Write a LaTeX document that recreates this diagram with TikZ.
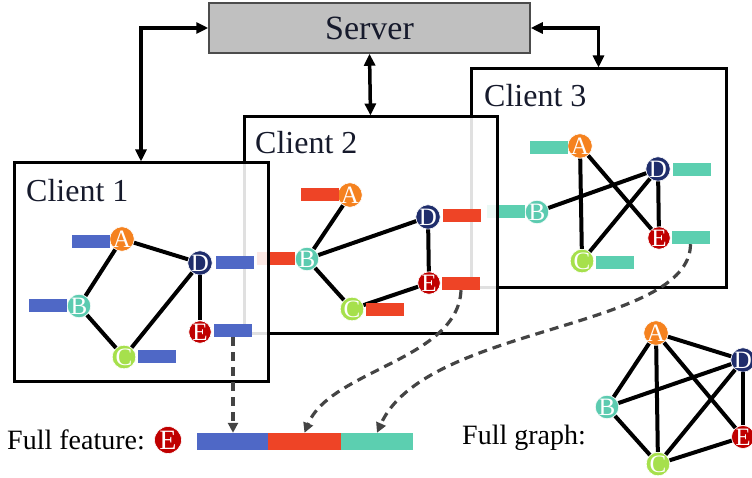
\documentclass[tikz,border=0pt]{standalone}
\usepackage{fontspec}
\setmainfont{Liberation Serif}
\usetikzlibrary{arrows.meta}
\definecolor{cA}{HTML}{F5821F}
\definecolor{cB}{HTML}{5CCBB0}
\definecolor{cC}{HTML}{A6E04C}
\definecolor{cD}{HTML}{1F2D6B}
\definecolor{cE}{HTML}{C00000}
\definecolor{barblue}{HTML}{4F68C6}
\definecolor{barred}{HTML}{EE4426}
\definecolor{barteal}{HTML}{5CCFB0}
\definecolor{srvgray}{HTML}{C0C0C0}
\definecolor{dashgray}{HTML}{444444}
\definecolor{labelink}{HTML}{161A2C}
\begin{document}
\begin{tikzpicture}[x=1pt,y=-1pt,
  vtx/.style={circle, inner sep=0pt, minimum size=22pt, draw=white, line width=0.6pt, text=white, font=\fontsize{25}{25}\selectfont},
  gedge/.style={line width=4pt, black},
  clientbox/.style={rectangle, draw=black, line width=3pt, fill=white, fill opacity=0.88, inner sep=0pt},
  clientlabel/.style={anchor=base west, inner sep=0pt, text=labelink, font=\fontsize{32}{32}\selectfont},
  featbar/.style={rectangle, inner sep=0pt, minimum width=38pt, minimum height=13pt},
  fullbar/.style={rectangle, inner sep=0pt, minimum height=17pt},
  link/.style={line width=3.5pt, black, {Triangle[length=12pt,width=11pt]}-{Triangle[length=12pt,width=11pt]}},
  dasharrow/.style={draw=dashgray, line width=3.2pt, dash pattern=on 9pt off 6pt, -{Triangle[length=10pt,width=10pt]}},
  biglabel/.style={inner sep=0pt, font=\fontsize{28}{28}\selectfont}
]
\useasboundingbox (0,0) rectangle (752,478);

% Server
\node[rectangle, draw=black!70, line width=1.5pt, fill=srvgray, minimum width=321pt, minimum height=50pt, inner sep=0pt,
  font=\fontsize{34}{34}\selectfont, text=labelink] (srv) at (369.5,28) {Server};

% ---------------- Client 3 ----------------
\node[clientbox, minimum width=255pt, minimum height=219pt] (c3) at (598.5,178.5) {};
\node[clientlabel] (c3lab) at (484,107) {Client 3};
\node[vtx, fill=cA] (c3A) at (580,146) {A};
\node[vtx, fill=cD] (c3D) at (658,169) {D};
\node[vtx, fill=cB] (c3B) at (537,212) {B};
\node[vtx, fill=cE] (c3E) at (659,238) {E};
\node[vtx, fill=cC] (c3C) at (582,261) {C};
\draw[gedge] (c3A) -- (c3C);
\draw[gedge] (c3A) -- (c3E);
\draw[gedge] (c3B) -- (c3D);
\draw[gedge] (c3C) -- (c3D);
\draw[gedge] (c3D) -- (c3E);
\node[featbar, fill=barteal] (c3Abar) at (548.5,147.5) {};
\node[featbar, fill=barteal] (c3Dbar) at (692,169.5) {};
\node[featbar, fill=barteal] (c3Bbar) at (506,212) {};
\node[featbar, fill=barteal] (c3Ebar) at (690.5,237.5) {};
\node[featbar, fill=barteal] (c3Cbar) at (614.5,262.5) {};

% ---------------- Client 2 ----------------
\node[clientbox, minimum width=253pt, minimum height=216pt] (c2) at (370.5,225) {};
\node[clientlabel] (c2lab) at (255,154) {Client 2};
\node[vtx, fill=cA] (c2A) at (350,195) {A};
\node[vtx, fill=cD] (c2D) at (428,217) {D};
\node[vtx, fill=cB] (c2B) at (307,259) {B};
\node[vtx, fill=cE] (c2E) at (429,283) {E};
\node[vtx, fill=cC] (c2C) at (352,309) {C};
\draw[gedge] (c2A) -- (c2B);
\draw[gedge] (c2B) -- (c2D);
\draw[gedge] (c2B) -- (c2C);
\draw[gedge] (c2C) -- (c2E);
\draw[gedge] (c2D) -- (c2E);
\node[featbar, fill=barred] (c2Abar) at (319.5,194.5) {};
\node[featbar, fill=barred] (c2Dbar) at (462,215.5) {};
\node[featbar, fill=barred] (c2Bbar) at (276,258.5) {};
\node[featbar, fill=barred] (c2Ebar) at (461,283.5) {};
\node[featbar, fill=barred] (c2Cbar) at (384.5,309.5) {};

% ---------------- Client 1 ----------------
\node[clientbox, minimum width=254pt, minimum height=218pt] (c1) at (141,272) {};
\node[clientlabel] (c1lab) at (26,202) {Client 1};
\node[vtx, fill=cA] (c1A) at (122,239) {A};
\node[vtx, fill=cD] (c1D) at (200,263) {D};
\node[vtx, fill=cB] (c1B) at (79,306) {B};
\node[vtx, fill=cE] (c1E) at (200,332) {E};
\node[vtx, fill=cC] (c1C) at (124,357) {C};
\draw[gedge] (c1A) -- (c1B);
\draw[gedge] (c1A) -- (c1D);
\draw[gedge] (c1B) -- (c1C);
\draw[gedge] (c1C) -- (c1D);
\draw[gedge] (c1D) -- (c1E);
\node[featbar, fill=barblue] (c1Abar) at (91,241.5) {};
\node[featbar, fill=barblue] (c1Dbar) at (234.5,263) {};
\node[featbar, fill=barblue] (c1Bbar) at (48,305.5) {};
\node[featbar, fill=barblue] (c1Ebar) at (233,330.5) {};
\node[featbar, fill=barblue] (c1Cbar) at (157,356.5) {};

% Server links
\draw[link] (srv.west) -| (c1.north);
\draw[link] (srv.south) -- (c2.north);
\draw[link] (srv.east) -| (c3.north);

% Full feature
\node[biglabel, anchor=west] (fflab) at (7,440) {Full feature:};
\node[vtx, fill=cE, minimum size=27pt, font=\fontsize{28}{28}\selectfont] (ffE) at (168,440) {E};
\node[fullbar, fill=barblue, minimum width=71pt] (fbBlue) at (232.5,441.5) {};
\node[fullbar, fill=barred, minimum width=73pt] (fbRed) at (304.5,441.5) {};
\node[fullbar, fill=barteal, minimum width=72pt] (fbTeal) at (377,441.5) {};

% Dashed arrows
\draw[dasharrow] (c1Ebar.south) -- (c1Ebar.south |- fbBlue.north);
\draw[dasharrow] (c2Ebar.south) .. controls (458,360) and (330,370) .. (fbRed.north);
\draw[dasharrow] (c3Ebar.south) .. controls (690,330) and (425,325) .. (fbTeal.north);

% Full graph
\node[biglabel, anchor=west] (fglab) at (462,438) {Full graph:};
\node[vtx, fill=cA, minimum size=23pt] (fA) at (656,333) {A};
\node[vtx, fill=cD, minimum size=23pt] (fD) at (743,360) {D};
\node[vtx, fill=cB, minimum size=23pt] (fB) at (607,407) {B};
\node[vtx, fill=cE, minimum size=23pt] (fE) at (743,437) {E};
\node[vtx, fill=cC, minimum size=23pt] (fC) at (658,464) {C};
\draw[gedge] (fA) -- (fB);
\draw[gedge] (fA) -- (fC);
\draw[gedge] (fA) -- (fD);
\draw[gedge] (fA) -- (fE);
\draw[gedge] (fB) -- (fC);
\draw[gedge] (fB) -- (fD);
\draw[gedge] (fC) -- (fD);
\draw[gedge] (fC) -- (fE);
\draw[gedge] (fD) -- (fE);
\end{tikzpicture}
\end{document}
